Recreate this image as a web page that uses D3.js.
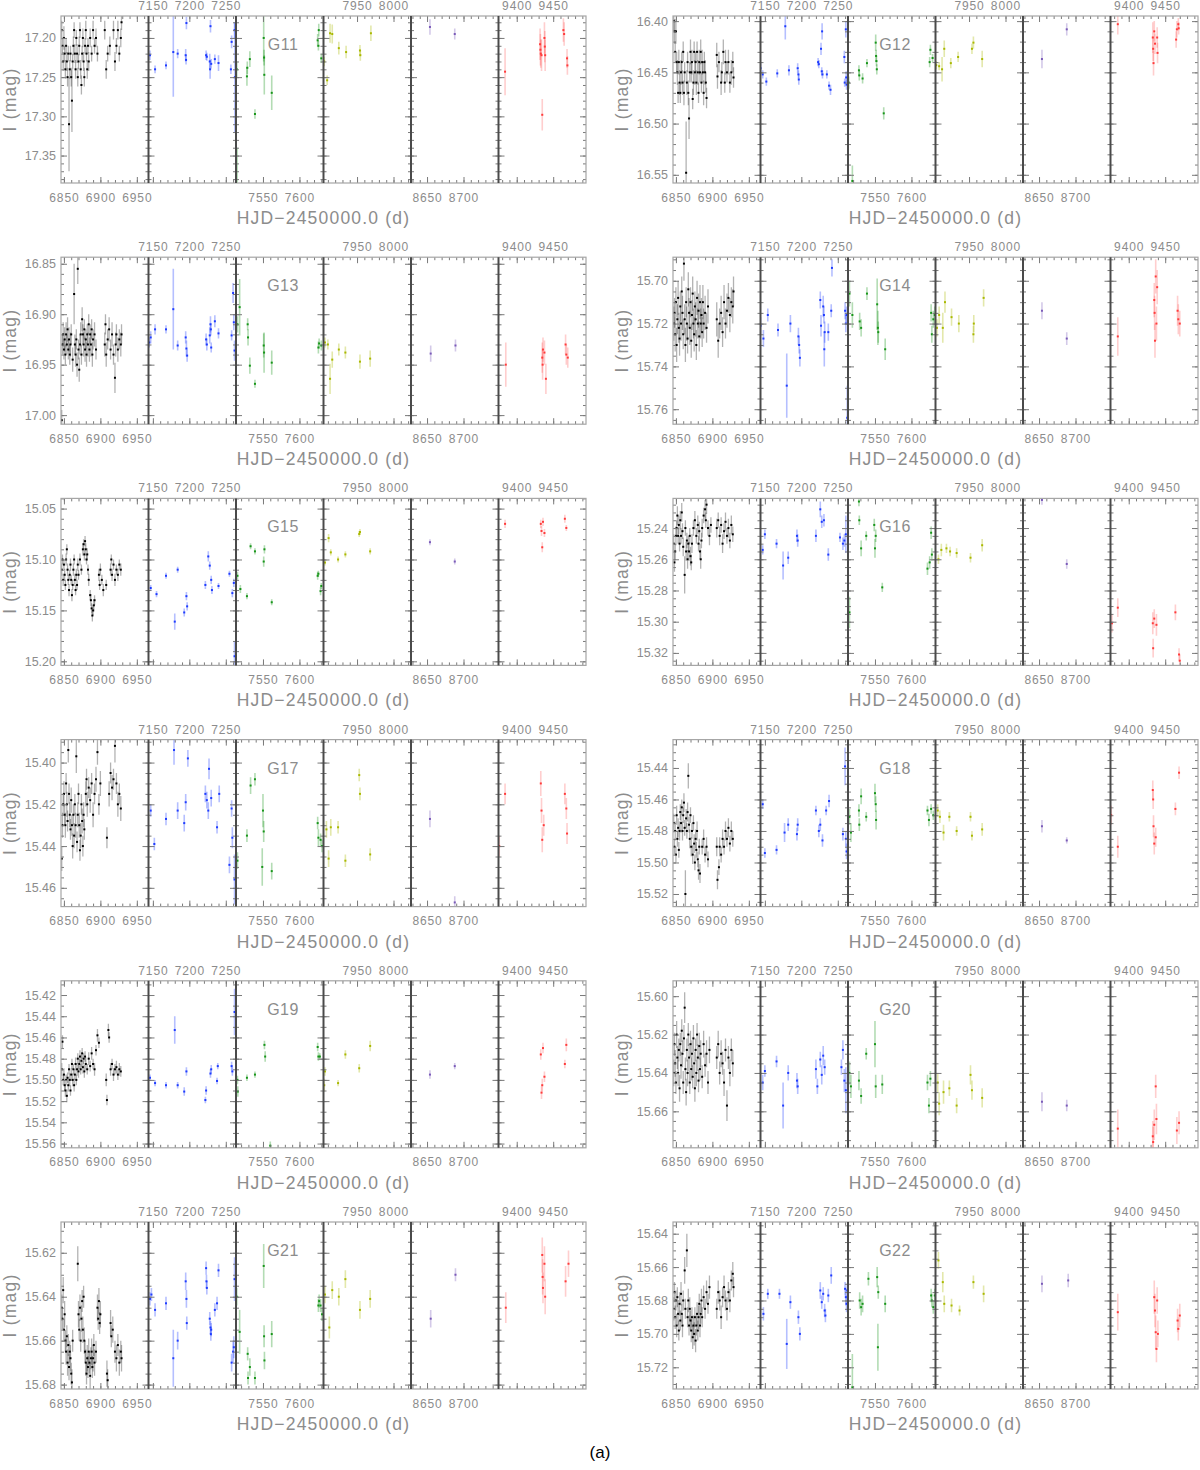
<!DOCTYPE html>
<html>
<head>
<meta charset="utf-8">
<script src="https://cdn.jsdelivr.net/npm/d3@7"></script>
<style>
  body { margin: 0; background: #fff; }
  svg text { font-family: "Liberation Sans", Arial, sans-serif; }
</style>
</head>
<body>
<svg id="chart" width="1200" height="1470"></svg>
<script>
// broken-axis light curves, 12 stars x 6 observing seasons

const stars = ['G11', 'G12', 'G13', 'G14', 'G15', 'G16', 'G17', 'G18', 'G19', 'G20', 'G21', 'G22'];

// x range (HJD-2450000) of each season window
const seasonDomains = [[6846, 6966], [7144, 7264], [7513, 7633], [7904, 8024], [8628, 8748], [9375, 9495]];
const seasonTicks = [[6850, 6900, 6950], [7150, 7200, 7250], [7550, 7600], [7950, 8000], [8650, 8700], [9400, 9450]];
const seasonColors = ['#000000', '#1f3cff', '#18951a', '#a9b800', '#7a5ab8', '#ff3b3b'];

// magnitude range (top, bottom) and ticks per star
const yDomains = [
  [17.172, 17.385], [16.395, 16.558], [16.8435, 17.009], [15.689, 15.767],
  [15.040, 15.204], [15.221, 15.328], [15.389, 15.469], [15.422, 15.528],
  [15.4066, 15.564], [15.592, 15.679], [15.606, 15.682], [15.633, 15.733]
];
const yTicks = [
  [17.20, 17.25, 17.30, 17.35], [16.40, 16.45, 16.50, 16.55], [16.85, 16.90, 16.95, 17.00], [15.70, 15.72, 15.74, 15.76],
  [15.05, 15.10, 15.15, 15.20], [15.24, 15.26, 15.28, 15.30, 15.32], [15.40, 15.42, 15.44, 15.46], [15.44, 15.46, 15.48, 15.50, 15.52],
  [15.42, 15.44, 15.46, 15.48, 15.50, 15.52, 15.54, 15.56], [15.60, 15.62, 15.64, 15.66], [15.62, 15.64, 15.66, 15.68], [15.64, 15.66, 15.68, 15.70, 15.72]
];
const yMinor = [0.01, 0.01, 0.01, 0.005, 0.01, 0.005, 0.005, 0.005, 0.01, 0.005, 0.005, 0.005];

// each star: [season1 .. season6], points are [HJD-2450000, I mag, error]
const g11 = [
  [[6847,17.19,.012],[6848,17.21,.01],[6849,17.23,.012],[6850,17.20,.015],[6851,17.22,.01],[6852,17.24,.012],[6853,17.21,.01],[6854,17.23,.012],[6855,17.25,.012],[6856,17.22,.01],[6857,17.31,.06],[6858,17.24,.012],[6859,17.22,.01],[6860,17.25,.012],[6861,17.28,.04],[6862,17.23,.01],[6863,17.21,.012],[6864,17.19,.01],[6865,17.22,.012],[6866,17.24,.012],[6867,17.20,.01],[6868,17.22,.012],[6869,17.25,.012],[6870,17.23,.01],[6871,17.21,.012],[6872,17.19,.01],[6873,17.24,.012],[6874,17.26,.012],[6875,17.22,.01],[6876,17.20,.012],[6877,17.23,.012],[6878,17.25,.012],[6879,17.21,.01],[6880,17.19,.012],[6881,17.22,.01],[6882,17.24,.012],[6883,17.21,.01],[6884,17.23,.012],[6886,17.20,.012],[6888,17.22,.01],[6890,17.19,.012],[6892,17.21,.01],[6894,17.20,.012],[6896,17.22,.01],[6906,17.19,.012],[6908,17.24,.012],[6910,17.22,.01],[6913,17.21,.012],[6918,17.19,.012],[6920,17.23,.012],[6922,17.21,.01],[6924,17.19,.012],[6926,17.22,.01],[6928,17.20,.012],[6929,17.18,.01]],
  [[7146,17.222,.006],[7153,17.24,.005],[7168,17.235,.005],[7178,17.218,.057],[7184,17.22,.006],[7195,17.222,.008],[7195.5,17.228,.006],[7196,17.181,.008],[7223,17.222,.006],[7224,17.224,.005],[7228,17.23,.01],[7228.5,17.24,.012],[7229,17.185,.008],[7230,17.233,.006],[7235,17.227,.006],[7240,17.232,.01],[7257,17.24,.006],[7258,17.205,.008],[7262,17.19,.01],[7262.5,17.25,.07]],
  [[7514,17.24,.01],[7514.5,17.40,.06],[7528,17.249,.012],[7528.5,17.238,.008],[7532,17.227,.01],[7539,17.297,.006],[7551,17.20,.03],[7551.5,17.225,.01],[7551.8,17.247,.025],[7562,17.27,.022],[7625,17.203,.008],[7626,17.21,.006],[7626.5,17.19,.008],[7630,17.226,.006]],
  [[7905,17.23,.006],[7909,17.254,.006],[7913,17.194,.012],[7916,17.195,.012],[7925,17.213,.008],[7935,17.218,.008],[7954,17.216,.007],[7954.5,17.222,.007],[7969,17.194,.01]],
  [[8654,17.186,.01],[8688,17.195,.007]],
  [[9384,17.243,.03],[9432,17.208,.02],[9432.5,17.215,.02],[9433,17.22,.018],[9434,17.222,.02],[9435,17.298,.02],[9438,17.20,.02],[9438.5,17.211,.02],[9439,17.222,.02],[9464,17.19,.015],[9465,17.195,.015],[9469,17.226,.012],[9469.5,17.235,.012]]
];
const g12 = [
  [[6847,16.40,.01],[6848,16.41,.012],[6849,16.43,.01],[6850,16.41,.012],[6851,16.44,.01],[6852,16.45,.012],[6853,16.47,.01],[6854,16.44,.012],[6855,16.46,.012],[6856,16.47,.01],[6857,16.45,.012],[6858,16.44,.01],[6859,16.46,.012],[6860,16.43,.01],[6861,16.47,.012],[6862,16.45,.01],[6864,16.548,.05],[6865,16.46,.012],[6866,16.44,.01],[6867,16.47,.012],[6868,16.495,.02],[6869,16.45,.01],[6870,16.43,.012],[6871,16.45,.01],[6872,16.44,.012],[6873,16.476,.01],[6874,16.46,.012],[6875,16.43,.01],[6876,16.45,.012],[6877,16.44,.01],[6878,16.46,.012],[6879,16.43,.01],[6880,16.45,.012],[6881,16.47,.01],[6882,16.44,.012],[6883,16.45,.01],[6884,16.43,.012],[6885,16.46,.01],[6886,16.44,.012],[6887,16.45,.01],[6888,16.47,.012],[6889,16.44,.01],[6890,16.45,.012],[6891,16.46,.01],[6892,16.475,.01],[6906,16.433,.012],[6907,16.454,.012],[6909,16.44,.01],[6912,16.46,.012],[6913,16.45,.01],[6915,16.43,.012],[6917,16.46,.01],[6918,16.44,.012],[6920,16.45,.01],[6922,16.44,.012],[6924,16.46,.01],[6926,16.45,.012],[6928,16.44,.01],[6929,16.455,.01]],
  [[7144,16.446,.005],[7147,16.452,.004],[7152,16.459,.004],[7167,16.451,.004],[7178,16.405,.013],[7183,16.448,.005],[7195,16.446,.005],[7196,16.452,.004],[7196.5,16.457,.005],[7223,16.44,.004],[7224,16.442,.004],[7227,16.427,.006],[7228,16.449,.004],[7228.5,16.41,.008],[7229,16.452,.004],[7235,16.452,.004],[7238,16.463,.004],[7240,16.467,.005],[7259,16.435,.006],[7259.5,16.46,.004],[7261,16.408,.008],[7261.5,16.455,.006],[7262,16.462,.005]],
  [[7514,16.46,.006],[7519,16.556,.015],[7528,16.448,.005],[7528.5,16.453,.005],[7533,16.456,.005],[7539,16.441,.004],[7551,16.421,.008],[7551.5,16.434,.006],[7552,16.439,.005],[7552.5,16.447,.005],[7562,16.49,.006],[7625,16.44,.005],[7626,16.428,.005],[7629,16.436,.004]],
  [[7905,16.443,.004],[7909,16.444,.004],[7913,16.447,.012],[7916,16.427,.008],[7925,16.441,.005],[7935,16.435,.005],[7954,16.427,.005],[7956,16.421,.006],[7968,16.437,.008]],
  [[8654,16.437,.009],[8688,16.408,.006]],
  [[9385,16.403,.01],[9433,16.416,.015],[9433.5,16.427,.012],[9434,16.441,.012],[9435,16.41,.01],[9436,16.422,.01],[9439,16.416,.01],[9439.5,16.431,.01],[9465,16.418,.008],[9466,16.408,.008],[9468,16.403,.006],[9468.5,16.407,.006]]
];
const g13 = [
  [[6847,17.005,.01],[6848,16.93,.01],[6849,16.92,.012],[6850,16.935,.01],[6851,16.925,.012],[6852,16.94,.01],[6853,16.92,.012],[6854,16.93,.01],[6855,16.915,.012],[6856,16.935,.01],[6857,16.925,.012],[6858,16.94,.01],[6859,16.93,.012],[6860,16.92,.01],[6862,16.945,.012],[6864,16.88,.03],[6865,16.93,.01],[6866,16.94,.012],[6867,16.925,.01],[6868,16.95,.012],[6869,16.855,.015],[6870,16.935,.01],[6871,16.955,.012],[6872,16.93,.01],[6873,16.92,.012],[6874,16.94,.01],[6875,16.905,.012],[6876,16.92,.01],[6877,16.93,.012],[6878,16.915,.01],[6879,16.935,.012],[6880,16.925,.01],[6881,16.94,.012],[6882,16.92,.01],[6883,16.93,.012],[6884,16.91,.01],[6885,16.935,.012],[6886,16.92,.01],[6887,16.93,.012],[6888,16.915,.01],[6889,16.94,.012],[6890,16.925,.01],[6892,16.92,.012],[6894,16.935,.01],[6906,16.93,.012],[6907,16.91,.01],[6908,16.94,.012],[6910,16.925,.01],[6912,16.915,.012],[6914,16.935,.01],[6916,16.92,.012],[6918,16.94,.01],[6920,16.963,.015],[6921,16.93,.012],[6922,16.92,.01],[6924,16.935,.012],[6926,16.925,.01],[6928,16.93,.012],[6929,16.92,.01]],
  [[7145,16.928,.005],[7147,16.923,.006],[7153,16.915,.005],[7168,16.915,.004],[7178,16.895,.04],[7184,16.931,.005],[7195,16.923,.006],[7196,16.934,.008],[7197,16.941,.006],[7223,16.925,.006],[7224,16.93,.006],[7228,16.921,.008],[7229,16.91,.008],[7229.5,16.915,.006],[7230,16.933,.005],[7235,16.907,.006],[7240,16.919,.005],[7258,16.921,.005],[7260,16.879,.01],[7261,16.908,.008],[7262,16.936,.01]],
  [[7515,16.91,.008],[7518,16.893,.028],[7529,16.91,.006],[7529.5,16.923,.008],[7532,16.951,.008],[7539,16.969,.004],[7551,16.931,.012],[7551.5,16.938,.02],[7562,16.948,.012],[7626,16.933,.006],[7627,16.929,.005],[7630,16.931,.005]],
  [[7906,16.928,.005],[7910,16.93,.005],[7913,16.964,.015],[7916,16.945,.008],[7925,16.935,.006],[7934,16.938,.006],[7954,16.947,.007],[7968,16.944,.008]],
  [[8655,16.939,.008],[8689,16.931,.006]],
  [[9385,16.95,.022],[9435,16.943,.015],[9435.5,16.95,.015],[9436,16.935,.012],[9438,16.938,.012],[9440,16.964,.015],[9467,16.93,.01],[9468,16.94,.01],[9470,16.943,.01]]
];
const g14 = [
  [[6847,15.72,.008],[6848,15.715,.007],[6849,15.725,.008],[6850,15.71,.007],[6851,15.73,.008],[6852,15.718,.007],[6853,15.708,.008],[6854,15.722,.007],[6855,15.727,.008],[6856,15.712,.007],[6857,15.72,.008],[6858,15.705,.007],[6859,15.715,.008],[6860,15.725,.007],[6861,15.692,.008],[6862,15.718,.007],[6863,15.73,.008],[6864,15.71,.007],[6865,15.72,.008],[6866,15.727,.007],[6867,15.704,.008],[6868,15.715,.007],[6869,15.722,.008],[6870,15.71,.007],[6871,15.728,.008],[6872,15.716,.007],[6873,15.706,.008],[6874,15.72,.007],[6875,15.725,.008],[6876,15.712,.007],[6877,15.718,.008],[6878,15.73,.007],[6879,15.708,.008],[6880,15.72,.007],[6881,15.714,.008],[6882,15.726,.007],[6883,15.71,.008],[6884,15.72,.007],[6885,15.716,.008],[6886,15.724,.007],[6887,15.71,.008],[6888,15.72,.007],[6890,15.715,.008],[6892,15.722,.007],[6894,15.712,.008],[6906,15.718,.008],[6908,15.728,.008],[6910,15.72,.007],[6912,15.715,.008],[6914,15.724,.007],[6916,15.71,.008],[6918,15.72,.007],[6920,15.714,.008],[6922,15.708,.007],[6924,15.716,.008],[6926,15.71,.007],[6928,15.712,.008],[6929,15.705,.007]],
  [[7144,15.721,.004],[7148,15.727,.004],[7154,15.716,.003],[7168,15.723,.003],[7180,15.749,.015],[7185,15.72,.004],[7196,15.726,.004],[7197,15.73,.004],[7198,15.736,.004],[7226,15.709,.004],[7227,15.721,.005],[7230,15.712,.005],[7231,15.716,.004],[7231.5,15.732,.008],[7232,15.724,.005],[7237,15.724,.004],[7241,15.714,.003],[7242,15.694,.004],[7260,15.714,.004],[7261,15.72,.004],[7262,15.716,.004],[7263,15.764,.015]],
  [[7515,15.706,.006],[7519,15.716,.006],[7529,15.719,.004],[7531,15.722,.004],[7539,15.706,.003],[7553,15.711,.012],[7554,15.722,.008],[7554.5,15.724,.005],[7564,15.732,.005],[7627,15.715,.004],[7628,15.725,.004],[7630,15.718,.004],[7632,15.716,.004]],
  [[7906,15.722,.004],[7909,15.716,.004],[7914,15.722,.007],[7917,15.71,.005],[7926,15.717,.004],[7936,15.72,.004],[7956,15.725,.004],[7956.5,15.72,.004],[7970,15.708,.004]],
  [[8654,15.714,.004],[8688,15.727,.003]],
  [[9385,15.726,.009],[9435,15.709,.008],[9435.5,15.715,.008],[9436,15.728,.008],[9437,15.698,.008],[9438,15.72,.008],[9439,15.703,.008],[9467,15.714,.007],[9468,15.718,.007],[9470,15.72,.006]]
];
const g15 = [
  [[6847,15.11,.006],[6848,15.10,.005],[6849,15.12,.006],[6850,15.105,.005],[6851,15.115,.006],[6852,15.125,.005],[6853,15.10,.006],[6854,15.09,.005],[6855,15.11,.006],[6856,15.12,.005],[6857,15.13,.006],[6858,15.115,.005],[6859,15.105,.006],[6860,15.12,.005],[6861,15.135,.006],[6862,15.125,.005],[6863,15.11,.006],[6864,15.10,.005],[6865,15.12,.006],[6866,15.13,.005],[6867,15.115,.006],[6868,15.125,.005],[6869,15.105,.006],[6870,15.115,.005],[6872,15.10,.006],[6874,15.11,.005],[6876,15.09,.006],[6877,15.085,.005],[6878,15.095,.006],[6879,15.082,.005],[6880,15.09,.006],[6881,15.10,.005],[6882,15.095,.006],[6883,15.11,.005],[6884,15.12,.006],[6886,15.135,.005],[6887,15.14,.006],[6888,15.148,.005],[6889,15.155,.006],[6890,15.15,.005],[6891,15.145,.006],[6892,15.14,.005],[6898,15.115,.006],[6899,15.125,.005],[6900,15.11,.006],[6902,15.12,.005],[6904,15.13,.006],[6908,15.125,.005],[6914,15.11,.006],[6915,15.10,.005],[6916,15.115,.006],[6918,15.105,.005],[6920,15.12,.006],[6922,15.11,.005],[6924,15.115,.006],[6926,15.105,.005],[6928,15.11,.006]],
  [[7147,15.128,.003],[7155,15.134,.003],[7168,15.116,.003],[7180,15.161,.008],[7184,15.11,.003],[7193,15.152,.004],[7196,15.136,.004],[7197,15.146,.004],[7222,15.125,.004],[7226,15.097,.005],[7228,15.106,.004],[7230,15.12,.004],[7231,15.13,.004],[7240,15.126,.003],[7255,15.114,.003],[7259,15.133,.004],[7261,15.123,.004],[7262,15.195,.015]],
  [[7515,15.116,.004],[7519,15.129,.004],[7528,15.136,.003],[7533,15.087,.003],[7539,15.092,.003],[7551,15.102,.005],[7552,15.09,.004],[7562,15.142,.003],[7625,15.116,.004],[7626,15.114,.003],[7629,15.131,.004],[7630,15.126,.003]],
  [[7906,15.103,.003],[7911,15.079,.004],[7914,15.093,.003],[7924,15.10,.003],[7934,15.095,.003],[7953,15.075,.003],[7954,15.073,.003],[7968,15.092,.003]],
  [[8654,15.083,.003],[8688,15.102,.003]],
  [[9384,15.065,.004],[9433,15.065,.004],[9434,15.072,.005],[9435,15.088,.005],[9436,15.063,.004],[9438,15.074,.004],[9466,15.06,.004],[9468,15.069,.003]]
];
const g16 = [
  [[6847,15.25,.006],[6848,15.262,.006],[6849,15.255,.005],[6850,15.245,.006],[6851,15.24,.005],[6852,15.232,.006],[6853,15.245,.005],[6854,15.238,.006],[6855,15.25,.005],[6856,15.235,.006],[6857,15.245,.005],[6858,15.23,.006],[6859,15.242,.005],[6860,15.252,.006],[6862,15.27,.012],[6863,15.24,.005],[6864,15.255,.006],[6865,15.248,.005],[6866,15.26,.006],[6867,15.25,.005],[6868,15.255,.006],[6869,15.245,.005],[6870,15.258,.006],[6871,15.262,.005],[6872,15.25,.006],[6874,15.24,.005],[6876,15.235,.006],[6878,15.245,.005],[6880,15.238,.006],[6881,15.25,.005],[6882,15.242,.006],[6883,15.255,.005],[6884,15.26,.006],[6885,15.248,.005],[6886,15.24,.006],[6888,15.232,.005],[6890,15.228,.006],[6891,15.235,.005],[6892,15.225,.006],[6894,15.24,.005],[6896,15.245,.006],[6898,15.238,.005],[6906,15.24,.006],[6908,15.235,.005],[6910,15.245,.006],[6912,15.238,.005],[6914,15.25,.006],[6916,15.242,.005],[6918,15.236,.006],[6920,15.245,.005],[6922,15.24,.006],[6924,15.248,.005],[6926,15.238,.006],[6928,15.244,.005]],
  [[7147,15.254,.003],[7150,15.244,.003],[7166,15.25,.003],[7175,15.264,.009],[7182,15.259,.004],[7194,15.245,.004],[7195,15.248,.004],[7220,15.245,.004],[7226,15.228,.005],[7228,15.236,.004],[7231,15.235,.004],[7237,15.257,.004],[7253,15.246,.003],[7257,15.25,.004],[7259,15.248,.004],[7261,15.244,.012]],
  [[7515,15.294,.01],[7528,15.223,.003],[7528.5,15.235,.003],[7531,15.253,.005],[7538,15.245,.003],[7549,15.238,.004],[7550,15.253,.006],[7551,15.245,.004],[7560,15.278,.003],[7622,15.266,.004],[7625,15.262,.004],[7627,15.243,.004],[7628,15.257,.004]],
  [[7908,15.26,.003],[7912,15.254,.004],[7919,15.253,.003],[7924,15.255,.003],[7933,15.256,.003],[7952,15.259,.003],[7968,15.251,.004]],
  [[8654,15.222,.003],[8688,15.263,.003]],
  [[9377,15.301,.006],[9385,15.291,.006],[9433,15.301,.007],[9433.5,15.317,.006],[9435,15.298,.006],[9438,15.302,.007],[9464,15.294,.005],[9469,15.321,.004],[9470,15.325,.004]]
];
const g17 = [
  [[6847,15.446,.006],[6848,15.43,.006],[6849,15.42,.005],[6850,15.415,.006],[6851,15.425,.005],[6852,15.43,.006],[6853,15.41,.005],[6854,15.42,.006],[6855,15.428,.005],[6856,15.394,.006],[6857,15.415,.005],[6858,15.425,.006],[6859,15.432,.005],[6860,15.418,.006],[6861,15.43,.005],[6862,15.44,.006],[6863,15.425,.005],[6864,15.435,.006],[6865,15.42,.005],[6866,15.43,.006],[6867,15.397,.008],[6868,15.438,.005],[6869,15.425,.006],[6870,15.415,.005],[6871,15.43,.006],[6872,15.442,.005],[6873,15.435,.006],[6874,15.42,.005],[6875,15.428,.006],[6876,15.44,.005],[6877,15.425,.006],[6878,15.432,.005],[6880,15.415,.006],[6881,15.408,.005],[6882,15.42,.006],[6884,15.412,.005],[6886,15.418,.006],[6888,15.41,.005],[6890,15.425,.006],[6892,15.415,.005],[6894,15.408,.006],[6896,15.395,.006],[6898,15.42,.005],[6900,15.41,.006],[6909,15.436,.005],[6912,15.415,.006],[6914,15.405,.005],[6916,15.412,.006],[6918,15.408,.005],[6920,15.392,.008],[6922,15.41,.005],[6924,15.42,.006],[6926,15.415,.005],[6928,15.422,.006]],
  [[7147,15.423,.003],[7152,15.439,.003],[7168,15.427,.003],[7179,15.394,.007],[7184,15.423,.004],[7193,15.429,.004],[7195,15.419,.004],[7198,15.398,.004],[7222,15.415,.004],[7224,15.418,.004],[7226,15.423,.004],[7227,15.403,.005],[7230,15.417,.004],[7238,15.431,.003],[7241,15.415,.004],[7255,15.449,.004],[7258,15.422,.004],[7259,15.436,.005],[7262,15.456,.012]],
  [[7515,15.447,.004],[7528,15.435,.003],[7533,15.411,.004],[7539,15.408,.003],[7549,15.45,.009],[7550,15.423,.008],[7551,15.433,.005],[7562,15.452,.004],[7625,15.429,.003],[7626,15.436,.004],[7629,15.437,.003],[7631,15.44,.003]],
  [[7908,15.432,.004],[7911,15.446,.004],[7914,15.431,.004],[7924,15.431,.003],[7934,15.447,.003],[7953,15.406,.003],[7954,15.415,.003],[7968,15.444,.003]],
  [[8654,15.427,.004],[8688,15.467,.003]],
  [[9376,15.44,.005],[9384,15.415,.005],[9433,15.41,.006],[9434,15.423,.006],[9435,15.437,.006],[9437,15.43,.005],[9466,15.415,.005],[9468,15.422,.005],[9469,15.434,.005]]
];
const g18 = [
  [[6847,15.475,.006],[6848,15.49,.005],[6849,15.48,.006],[6850,15.495,.005],[6851,15.47,.006],[6852,15.485,.005],[6853,15.478,.006],[6854,15.492,.005],[6855,15.48,.006],[6856,15.468,.005],[6857,15.475,.006],[6858,15.465,.005],[6859,15.48,.006],[6860,15.47,.005],[6861,15.462,.006],[6862,15.478,.005],[6863,15.52,.015],[6864,15.472,.006],[6865,15.48,.005],[6866,15.468,.006],[6867,15.445,.008],[6868,15.476,.005],[6869,15.485,.006],[6870,15.47,.005],[6871,15.49,.006],[6872,15.48,.005],[6873,15.495,.006],[6874,15.475,.005],[6875,15.488,.006],[6876,15.5,.005],[6877,15.485,.006],[6878,15.492,.005],[6879,15.48,.006],[6880,15.498,.005],[6881,15.505,.006],[6882,15.49,.005],[6883,15.507,.006],[6886,15.49,.005],[6888,15.485,.006],[6890,15.495,.005],[6892,15.49,.006],[6894,15.498,.005],[6906,15.49,.006],[6907,15.511,.006],[6909,15.503,.005],[6910,15.49,.006],[6912,15.495,.005],[6914,15.485,.006],[6916,15.49,.005],[6918,15.48,.006],[6920,15.485,.005],[6922,15.478,.006],[6924,15.488,.005],[6926,15.48,.006],[6928,15.485,.005]],
  [[7147,15.463,.003],[7150,15.494,.003],[7166,15.492,.003],[7177,15.481,.006],[7182,15.476,.004],[7194,15.482,.004],[7195,15.476,.004],[7220,15.467,.003],[7224,15.48,.004],[7226,15.476,.004],[7229,15.486,.004],[7234,15.467,.003],[7238,15.461,.004],[7257,15.482,.004],[7260,15.439,.012],[7261,15.485,.005],[7262,15.493,.005]],
  [[7515,15.471,.005],[7517,15.481,.006],[7528,15.467,.004],[7528.5,15.476,.004],[7531,15.458,.005],[7538,15.471,.003],[7550,15.456,.006],[7551,15.463,.005],[7551.5,15.473,.006],[7622,15.467,.003],[7624,15.473,.004],[7627,15.466,.003],[7630,15.47,.003]],
  [[7907,15.467,.004],[7910,15.471,.004],[7915,15.481,.005],[7923,15.471,.003],[7933,15.48,.003],[7952,15.471,.003],[7954,15.483,.003],[7968,15.479,.004]],
  [[8654,15.477,.004],[8688,15.486,.002]],
  [[9376,15.47,.006],[9385,15.49,.007],[9433,15.454,.006],[9433.5,15.46,.006],[9434,15.477,.007],[9435,15.488,.007],[9437,15.484,.006],[9464,15.466,.004],[9469,15.443,.004]]
];
const g19 = [
  [[6847,15.49,.006],[6848,15.464,.006],[6849,15.50,.005],[6850,15.495,.006],[6851,15.505,.005],[6852,15.51,.006],[6853,15.50,.005],[6854,15.515,.006],[6855,15.498,.005],[6856,15.505,.006],[6857,15.49,.005],[6858,15.50,.006],[6859,15.51,.005],[6860,15.495,.006],[6861,15.485,.005],[6862,15.50,.006],[6863,15.49,.005],[6864,15.505,.006],[6865,15.495,.005],[6866,15.485,.006],[6867,15.50,.005],[6868,15.49,.006],[6869,15.48,.005],[6870,15.492,.006],[6871,15.485,.005],[6872,15.478,.006],[6873,15.49,.005],[6874,15.482,.006],[6875,15.475,.005],[6876,15.488,.006],[6877,15.48,.005],[6878,15.492,.006],[6879,15.478,.005],[6880,15.485,.006],[6882,15.49,.005],[6884,15.48,.006],[6886,15.487,.005],[6888,15.475,.006],[6890,15.485,.005],[6892,15.49,.006],[6894,15.472,.005],[6896,15.458,.006],[6898,15.465,.005],[6908,15.50,.006],[6909,15.519,.005],[6911,15.453,.006],[6912,15.46,.005],[6914,15.49,.006],[6916,15.485,.005],[6918,15.495,.006],[6920,15.49,.005],[6922,15.488,.006],[6924,15.495,.005],[6926,15.49,.006],[6928,15.492,.005]],
  [[7146,15.498,.003],[7153,15.503,.003],[7168,15.505,.003],[7180,15.453,.013],[7184,15.505,.003],[7193,15.511,.004],[7196,15.492,.004],[7222,15.519,.003],[7223,15.51,.004],[7229,15.494,.004],[7230,15.49,.004],[7238,15.501,.003],[7239,15.487,.003],[7258,15.487,.004],[7259,15.492,.004],[7262,15.436,.022]],
  [[7515,15.50,.004],[7515.5,15.511,.005],[7528,15.498,.003],[7539,15.495,.003],[7552,15.467,.004],[7553,15.478,.005],[7560,15.562,.004],[7625,15.469,.004],[7626,15.478,.004],[7628,15.478,.003]],
  [[7905,15.505,.006],[7906,15.492,.004],[7924,15.503,.003],[7934,15.476,.004],[7953,15.489,.004],[7968,15.468,.005]],
  [[8654,15.495,.004],[8688,15.487,.003]],
  [[9433,15.476,.005],[9434,15.512,.006],[9435,15.505,.006],[9436,15.47,.005],[9438,15.497,.005],[9466,15.485,.004],[9468,15.467,.006]]
];
const g20 = [
  [[6847,15.64,.007],[6848,15.625,.006],[6849,15.635,.007],[6850,15.645,.006],[6851,15.62,.007],[6852,15.632,.006],[6853,15.64,.007],[6854,15.628,.006],[6855,15.648,.007],[6856,15.625,.006],[6857,15.636,.007],[6858,15.618,.006],[6859,15.63,.007],[6860,15.645,.006],[6861,15.622,.007],[6862,15.606,.008],[6863,15.638,.006],[6864,15.65,.007],[6865,15.628,.006],[6866,15.64,.007],[6867,15.62,.006],[6868,15.632,.007],[6869,15.645,.006],[6870,15.625,.007],[6871,15.638,.006],[6872,15.63,.007],[6873,15.642,.006],[6874,15.622,.007],[6875,15.635,.006],[6876,15.648,.007],[6877,15.628,.006],[6878,15.64,.007],[6879,15.62,.006],[6880,15.632,.007],[6881,15.644,.006],[6882,15.626,.007],[6883,15.638,.006],[6884,15.63,.007],[6886,15.642,.006],[6888,15.625,.007],[6890,15.636,.006],[6892,15.63,.007],[6894,15.645,.006],[6896,15.628,.007],[6906,15.632,.006],[6908,15.625,.007],[6910,15.64,.006],[6912,15.63,.007],[6914,15.635,.006],[6916,15.645,.007],[6918,15.628,.006],[6920,15.657,.008],[6922,15.632,.006],[6924,15.64,.007],[6926,15.628,.006],[6928,15.635,.007]],
  [[7147,15.645,.004],[7150,15.639,.003],[7166,15.634,.003],[7175,15.657,.012],[7182,15.64,.004],[7194,15.644,.004],[7195,15.647,.004],[7220,15.638,.005],[7222,15.647,.004],[7226,15.633,.004],[7228,15.641,.005],[7230,15.631,.005],[7232,15.637,.004],[7255,15.637,.004],[7257,15.628,.005],[7259,15.644,.006],[7261,15.649,.012]],
  [[7515,15.64,.006],[7517,15.647,.006],[7528,15.644,.005],[7531,15.652,.004],[7538,15.63,.003],[7550,15.625,.012],[7551,15.647,.006],[7560,15.646,.005],[7622,15.645,.004],[7624,15.657,.004],[7626,15.643,.004]],
  [[7907,15.645,.005],[7909,15.656,.006],[7915,15.65,.006],[7923,15.648,.004],[7933,15.657,.004],[7952,15.641,.005],[7954,15.649,.005],[7968,15.653,.005]],
  [[8654,15.655,.005],[8688,15.657,.003]],
  [[9385,15.669,.01],[9433,15.673,.008],[9433.5,15.676,.008],[9435,15.667,.008],[9437,15.647,.006],[9438,15.664,.008],[9466,15.67,.007],[9469,15.666,.006]]
];
const g21 = [
  [[6847,15.645,.006],[6848,15.65,.005],[6849,15.637,.006],[6850,15.655,.005],[6851,15.648,.006],[6852,15.66,.005],[6853,15.665,.006],[6854,15.658,.005],[6855,15.67,.006],[6856,15.662,.005],[6857,15.672,.006],[6858,15.665,.005],[6859,15.668,.006],[6860,15.675,.005],[6861,15.679,.006],[6862,15.66,.005],[6869,15.625,.008],[6870,15.648,.006],[6871,15.655,.005],[6872,15.645,.006],[6873,15.66,.005],[6874,15.65,.006],[6875,15.642,.005],[6876,15.655,.006],[6877,15.64,.005],[6878,15.66,.006],[6879,15.665,.005],[6880,15.67,.006],[6881,15.675,.005],[6882,15.668,.006],[6883,15.672,.005],[6884,15.665,.006],[6885,15.67,.005],[6886,15.676,.006],[6887,15.668,.005],[6888,15.665,.006],[6889,15.672,.005],[6890,15.668,.006],[6891,15.662,.005],[6892,15.67,.006],[6894,15.665,.005],[6896,15.645,.006],[6897,15.65,.005],[6898,15.642,.006],[6899,15.652,.005],[6900,15.648,.006],[6909,15.675,.006],[6910,15.678,.005],[6914,15.652,.006],[6915,15.658,.005],[6917,15.655,.006],[6920,15.665,.005],[6922,15.668,.006],[6924,15.662,.005],[6926,15.67,.006],[6928,15.665,.005],[6929,15.668,.006]],
  [[7146,15.641,.003],[7148,15.639,.003],[7153,15.646,.003],[7168,15.643,.003],[7178,15.668,.013],[7184,15.66,.004],[7195,15.633,.004],[7196,15.641,.004],[7196.5,15.652,.003],[7223,15.627,.003],[7223.5,15.633,.003],[7224,15.636,.003],[7228,15.65,.003],[7229,15.654,.003],[7229.5,15.657,.003],[7230,15.655,.003],[7235,15.646,.003],[7238,15.643,.003],[7240,15.628,.003],[7258,15.67,.004],[7260,15.665,.005],[7261,15.663,.005],[7262,15.632,.01]],
  [[7514,15.64,.004],[7518,15.656,.01],[7529,15.666,.003],[7529.5,15.677,.003],[7532,15.672,.004],[7539,15.677,.003],[7551,15.626,.01],[7551.5,15.658,.005],[7552,15.669,.004],[7562,15.657,.006],[7626,15.644,.003],[7627,15.642,.003],[7629,15.644,.003],[7631,15.648,.003]],
  [[7906,15.639,.004],[7912,15.654,.005],[7916,15.637,.004],[7925,15.64,.004],[7934,15.632,.004],[7954,15.646,.004],[7968,15.641,.004]],
  [[8655,15.65,.004],[8689,15.63,.003]],
  [[9385,15.645,.007],[9435,15.621,.008],[9435.5,15.631,.008],[9436,15.636,.007],[9438,15.625,.008],[9439,15.64,.008],[9467,15.633,.007],[9471,15.625,.006]]
];
const g22 = [
  [[6847,15.685,.007],[6848,15.675,.006],[6849,15.69,.007],[6850,15.68,.006],[6851,15.695,.007],[6852,15.678,.006],[6853,15.688,.007],[6854,15.698,.006],[6855,15.682,.007],[6856,15.692,.006],[6857,15.676,.007],[6858,15.688,.006],[6859,15.695,.007],[6860,15.68,.006],[6862,15.662,.008],[6863,15.685,.006],[6865,15.65,.01],[6866,15.69,.006],[6867,15.68,.007],[6868,15.695,.006],[6869,15.685,.007],[6870,15.692,.006],[6871,15.698,.007],[6872,15.69,.006],[6873,15.702,.007],[6874,15.695,.006],[6875,15.7,.007],[6876,15.69,.006],[6877,15.704,.007],[6878,15.695,.006],[6879,15.688,.007],[6880,15.698,.006],[6881,15.69,.007],[6882,15.682,.006],[6883,15.695,.007],[6884,15.688,.006],[6885,15.68,.007],[6886,15.69,.006],[6888,15.678,.007],[6890,15.685,.006],[6892,15.675,.007],[6894,15.682,.006],[6896,15.672,.007],[6906,15.685,.006],[6908,15.675,.007],[6910,15.68,.006],[6912,15.69,.007],[6914,15.678,.006],[6916,15.672,.007],[6918,15.68,.006],[6920,15.685,.007],[6922,15.675,.006],[6924,15.68,.007],[6926,15.668,.006],[6928,15.664,.007],[6929,15.672,.006]],
  [[7148,15.688,.004],[7154,15.676,.003],[7170,15.676,.003],[7180,15.706,.015],[7185,15.681,.004],[7196,15.69,.004],[7198,15.70,.004],[7226,15.674,.005],[7228,15.681,.004],[7230,15.676,.004],[7232,15.686,.004],[7233,15.689,.004],[7237,15.677,.004],[7241,15.665,.005],[7260,15.673,.004],[7261,15.678,.005],[7262,15.682,.005],[7263,15.674,.004]],
  [[7519,15.732,.02],[7529,15.68,.005],[7531,15.684,.005],[7533,15.682,.005],[7541,15.667,.004],[7553,15.666,.006],[7554,15.708,.014],[7554.5,15.675,.004],[7564,15.682,.005],[7627,15.677,.004],[7628,15.68,.004],[7630,15.684,.004],[7632,15.677,.004]],
  [[7908,15.656,.005],[7914,15.669,.006],[7916,15.682,.005],[7926,15.683,.004],[7937,15.686,.003],[7956,15.669,.004],[7970,15.676,.005]],
  [[8654,15.67,.005],[8690,15.668,.004]],
  [[9385,15.687,.011],[9435,15.678,.01],[9436,15.686,.01],[9437,15.699,.01],[9438,15.709,.008],[9439,15.68,.008],[9440,15.70,.008],[9467,15.692,.007],[9468,15.697,.007],[9470,15.689,.007]]
];
const allStars = [g11, g12, g13, g14, g15, g16, g17, g18, g19, g20, g21, g22];

// LAYOUT
const colX = [61, 673];
const panelW = 525, panelH = 167;
const subW = panelW / 6;
const rowTop0 = 16, rowStep = 241.2;
const labelGrey = '#8c8c8c';
const barOpacity = [0.3, 0.33, 0.33, 0.33, 0.33, 0.25];

const svg = d3.select('#chart');
const defs = svg.append('defs');

function styleAxis(g, size) {
  g.attr('font-family', '"Liberation Sans", Arial, sans-serif')
    .attr('font-size', size)
    .attr('color', labelGrey);
  g.select('.domain').remove();
  g.selectAll('.tick line').attr('stroke', '#7a7a7a');
}

function drawStar(i) {
  const col = i % 2, row = Math.floor(i / 2);
  const x0 = colX[col], y0 = rowTop0 + row * rowStep;
  const y = d3.scaleLinear().domain(yDomains[i]).range([y0, y0 + panelH]);
  const panel = svg.append('g').attr('class', 'panel');
  const minorY = d3.range(Math.ceil(yDomains[i][0] / yMinor[i] - 1e-6) * yMinor[i], yDomains[i][1], yMinor[i]);

  allStars[i].forEach((pts, s) => {
    const left = x0 + s * subW;
    const x = d3.scaleLinear().domain(seasonDomains[s]).range([left, left + subW]);
    const clipId = `clip-${i}-${s}`;
    defs.append('clipPath').attr('id', clipId)
      .append('rect').attr('x', left).attr('y', y0).attr('width', subW).attr('height', panelH);

    const layer = panel.append('g').attr('clip-path', `url(#${clipId})`);
    const barColor = d3.color(seasonColors[s]).copy({ opacity: barOpacity[s] });

    layer.selectAll('line.err')
      .data(pts)
      .join('line')
      .attr('class', 'err')
      .attr('x1', d => x(d[0])).attr('x2', d => x(d[0]))
      .attr('y1', d => y(d[1] - d[2])).attr('y2', d => y(d[1] + d[2]))
      .attr('stroke', barColor)
      .attr('stroke-width', s === 0 ? 1.3 : 1.6);

    layer.selectAll('rect.pt')
      .data(pts)
      .join('rect')
      .attr('class', 'pt')
      .attr('x', d => x(d[0]) - 1).attr('y', d => y(d[1]) - 1)
      .attr('width', 2).attr('height', 2)
      .attr('fill', seasonColors[s]);

    // x axes, ticks pointing inwards; labels alternate bottom / top
    const minorX = d3.range(Math.ceil(seasonDomains[s][0] / 10) * 10, seasonDomains[s][1] + 0.1, 10);
    const fmt = d3.format('d');
    const bottomLabels = s % 2 === 0;

    panel.append('g').attr('transform', `translate(0,${y0 + panelH})`)
      .call(d3.axisBottom(x).tickValues(minorX).tickSize(-3).tickFormat(''))
      .call(g => styleAxis(g, 12));
    panel.append('g').attr('transform', `translate(0,${y0 + panelH})`)
      .call(d3.axisBottom(x).tickValues(seasonTicks[s]).tickSize(-6).tickPadding(10)
        .tickFormat(bottomLabels ? fmt : ''))
      .call(g => styleAxis(g, 12))
      .selectAll('text').attr('letter-spacing', 0.9);
    panel.append('g').attr('transform', `translate(0,${y0})`)
      .call(d3.axisTop(x).tickValues(minorX).tickSize(-3).tickFormat(''))
      .call(g => styleAxis(g, 12));
    panel.append('g').attr('transform', `translate(0,${y0})`)
      .call(d3.axisTop(x).tickValues(seasonTicks[s]).tickSize(-6).tickPadding(6)
        .tickFormat(bottomLabels ? '' : fmt))
      .call(g => styleAxis(g, 12))
      .selectAll('text').attr('letter-spacing', 0.9);

    // y axes on both edges of every season window
    panel.append('g').attr('transform', `translate(${left},0)`)
      .call(d3.axisLeft(y).tickValues(minorY).tickSize(-3).tickFormat(''))
      .call(g => styleAxis(g, 12));
    panel.append('g').attr('transform', `translate(${left},0)`)
      .call(d3.axisLeft(y).tickValues(yTicks[i]).tickSize(-6).tickPadding(5)
        .tickFormat(s === 0 ? d3.format('.2f') : ''))
      .call(g => styleAxis(g, 12.5));
    panel.append('g').attr('transform', `translate(${left + subW},0)`)
      .call(d3.axisRight(y).tickValues(minorY).tickSize(-3).tickFormat(''))
      .call(g => styleAxis(g, 12));
    panel.append('g').attr('transform', `translate(${left + subW},0)`)
      .call(d3.axisRight(y).tickValues(yTicks[i]).tickSize(-6).tickFormat(''))
      .call(g => styleAxis(g, 12));
  });

  // frame and season separators
  panel.append('rect')
    .attr('x', x0).attr('y', y0).attr('width', panelW).attr('height', panelH)
    .attr('fill', 'none').attr('stroke', '#a6a6a6').attr('stroke-width', 1.2);
  panel.selectAll('line.sep')
    .data(d3.range(1, 6))
    .join('line')
    .attr('class', 'sep')
    .attr('x1', s => x0 + s * subW).attr('x2', s => x0 + s * subW)
    .attr('y1', y0).attr('y2', y0 + panelH)
    .attr('stroke', '#4a4a4a').attr('stroke-width', 2);

  // titles
  panel.append('text')
    .attr('x', x0 + panelW / 2).attr('y', y0 + panelH + 41)
    .attr('text-anchor', 'middle').attr('font-size', 17.5).attr('letter-spacing', 1.2)
    .attr('fill', labelGrey)
    .text('HJD\u22122450000.0 (d)');
  panel.append('text')
    .attr('transform', `translate(${x0 - 45},${y0 + panelH / 2}) rotate(-90)`)
    .attr('text-anchor', 'middle').attr('font-size', 17.5).attr('letter-spacing', 1.2)
    .attr('fill', labelGrey)
    .text('I (mag)');
  panel.append('text')
    .attr('x', x0 + 222).attr('y', y0 + 34)
    .attr('text-anchor', 'middle').attr('font-size', 16).attr('letter-spacing', 0.5)
    .attr('fill', labelGrey)
    .text(stars[i]);
}

stars.forEach((d, i) => drawStar(i));

svg.append('text')
  .attr('x', 600).attr('y', 1458)
  .attr('text-anchor', 'middle')
  .attr('font-family', '"Liberation Serif", "Times New Roman", serif')
  .attr('font-size', 17)
  .attr('fill', '#000')
  .text('(a)');
</script>
</body>
</html>
